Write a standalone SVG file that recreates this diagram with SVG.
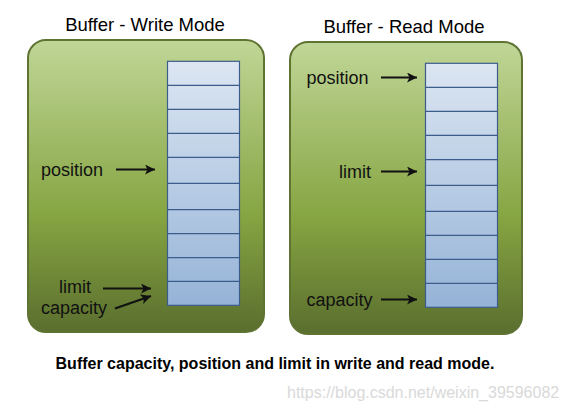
<svg xmlns="http://www.w3.org/2000/svg" width="568" height="411" viewBox="0 0 568 411">
<defs>
<linearGradient id="boxg" x1="0" y1="0" x2="0" y2="1">
<stop offset="0" stop-color="#c0d697"/>
<stop offset="0.6" stop-color="#86a542"/>
<stop offset="1" stop-color="#5a6e2e"/>
</linearGradient>
<linearGradient id="cellg" gradientUnits="userSpaceOnUse" x1="0" y1="61" x2="0" y2="307">
<stop offset="0" stop-color="#dce6f2"/>
<stop offset="1" stop-color="#95b3d7"/>
</linearGradient>
<marker id="ah" viewBox="0 0 10 10" refX="10" refY="5" markerWidth="10" markerHeight="10" markerUnits="userSpaceOnUse" orient="auto">
<path d="M0,0 L10,5 L0,10 L2.5,5 Z" fill="#111"/>
</marker>
</defs>
<style>
.box{fill:url(#boxg);stroke:#5f7433;stroke-width:2}
.cell{fill:none;stroke:#3c5d8c;stroke-width:1.2}
.title{font-family:"Liberation Sans",Arial,sans-serif;font-size:18.5px;fill:#000;text-anchor:middle}
.lbl{font-family:"Liberation Sans",Arial,sans-serif;font-size:18px;fill:#111}
.arr{stroke:#111;stroke-width:2;fill:none;marker-end:url(#ah)}
.cap{font-family:"Liberation Sans",Arial,sans-serif;font-size:16px;font-weight:bold;fill:#000}
.wm{font-family:"Liberation Sans",Arial,sans-serif;font-size:16px;fill:#d9d9d9}
</style>
<rect width="568" height="411" fill="#fff"/>

<g id="write-mode">
<text class="title" x="145" y="31">Buffer - Write Mode</text>
<rect class="box" x="28" y="40" width="236" height="292" rx="18" ry="18"/>
<rect x="167.5" y="61.3" width="72" height="244" fill="url(#cellg)" stroke="none"/>
<g class="cell">
<rect x="167.5" y="61.3" width="72" height="244"/>
<path d="M167.5,85.3H239.5M167.5,109.3H239.5M167.5,133.3H239.5M167.5,157.3H239.5M167.5,183.3H239.5M167.5,209.7H239.5M167.5,233.7H239.5M167.5,257.7H239.5M167.5,281.3H239.5"/>
</g>
<text class="lbl" x="41" y="176">position</text>
<text class="lbl" x="59" y="293">limit</text>
<text class="lbl" x="41" y="313.5">capacity</text>
</g>

<g id="read-mode">
<text class="title" x="404" y="32.5">Buffer - Read Mode</text>
<rect class="box" x="290" y="42" width="232" height="292" rx="18" ry="18"/>
<rect x="425.5" y="63.3" width="72" height="244" fill="url(#cellg)" stroke="none"/>
<g class="cell">
<rect x="425.5" y="63.3" width="72" height="244"/>
<path d="M425.5,87.3H497.5M425.5,111.3H497.5M425.5,135.3H497.5M425.5,159.7H497.5M425.5,185.3H497.5M425.5,211.3H497.5M425.5,235.3H497.5M425.5,259.3H497.5M425.5,283.3H497.5"/>
</g>
<text class="lbl" x="306.5" y="83.5">position</text>
<text class="lbl" x="339" y="177.5">limit</text>
<text class="lbl" x="306.5" y="305.5">capacity</text>
</g>

<g id="connectors">
<path class="arr" d="M116,169.5H155"/>
<path class="arr" d="M103,288.5H151"/>
<path class="arr" d="M115,308.5L151,296"/>
<path class="arr" d="M381,77.5H417"/>
<path class="arr" d="M381,171.5H417"/>
<path class="arr" d="M381,299.5H417"/>
</g>

<g id="caption">
<text class="cap" x="275" y="368.5" text-anchor="middle">Buffer capacity, position and limit in write and read mode.</text>
<text class="wm" x="287" y="398">https://blog.csdn.net/weixin_39596082</text>
<text class="cap" x="0" y="423.5">Capacity</text>
</g>
</svg>
